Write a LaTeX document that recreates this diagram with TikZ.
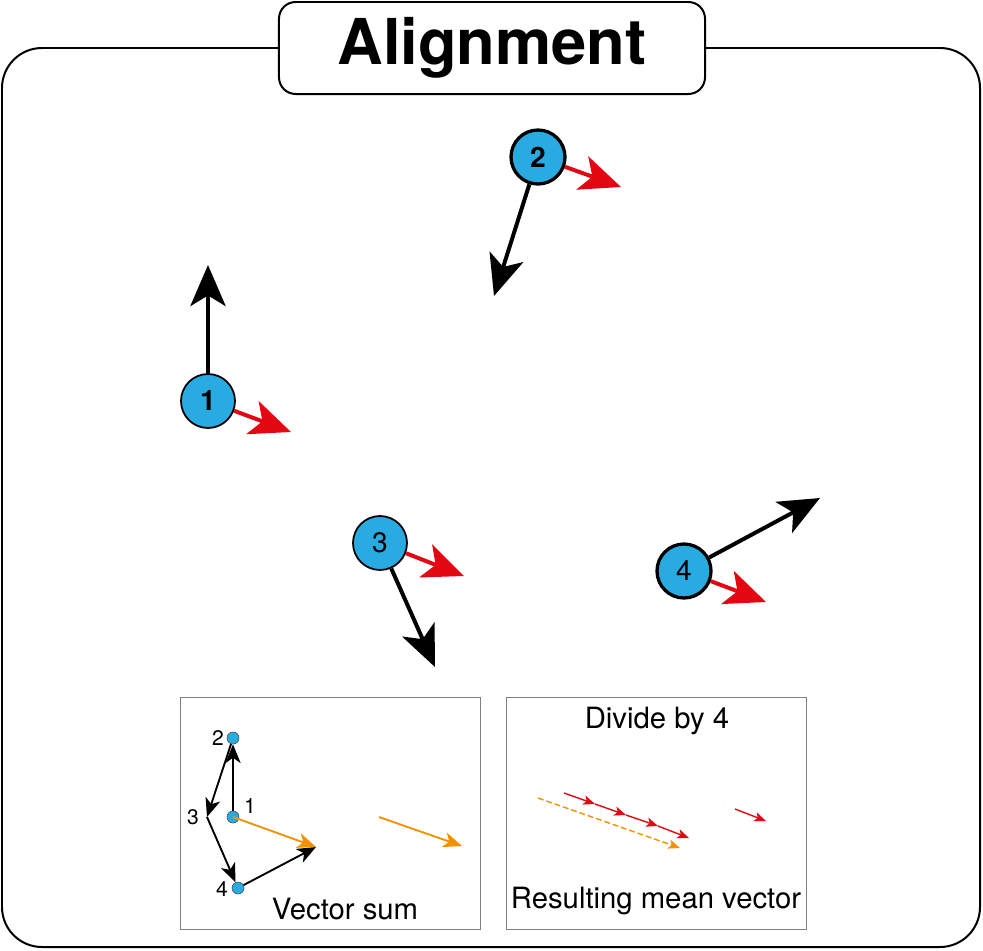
\documentclass[tikz,border=0pt]{standalone}
\usepackage{fontspec}
\setmainfont{TeX Gyre Heros}
\usepackage{xcolor}
\usetikzlibrary{arrows.meta}
\definecolor{agentblue}{RGB}{41,171,226}
\definecolor{headred}{RGB}{227,6,19}
\definecolor{sumorange}{RGB}{243,146,0}
\definecolor{panelgray}{RGB}{128,128,128}

\begin{document}
\begin{tikzpicture}[x=0.03cm, y=-0.03cm, % pixel units of the sketch
    agent/.style={circle, draw, fill=agentblue, minimum size=1.62cm, inner sep=0pt,
      font=\fontsize{24}{28}\selectfont},
    bigvec/.style={line width=3.4pt, -{Stealth[length=35pt, width=30pt, inset=9pt]}},
    dot/.style={circle, draw=black!70, line width=0.5pt, fill=agentblue, minimum size=0.36cm, inner sep=0pt},
    smallvec/.style={line width=1.6pt, -{Stealth[length=16pt, width=13pt, inset=4.5pt]}},
    tinyvec/.style={line width=1.2pt, -{Stealth[length=10pt, width=8pt, inset=2.5pt]}},
    panel/.style={draw=panelgray, line width=0.8pt, minimum width=9cm, minimum height=6.96cm, inner sep=0pt},
    caption/.style={font=\fontsize{25}{30}\selectfont},
    tag/.style={font=\fontsize{18}{21}\selectfont, inner sep=1pt}]

        % Frame
        \useasboundingbox (0,0) rectangle (983,950);
        \draw[line width=1.7pt, rounded corners=1.2cm] (2,48) rectangle (980,947);
        \node[draw, line width=1.7pt, fill=white, rounded corners=0.5cm,
              minimum width=12.78cm, minimum height=2.76cm,
              font=\bfseries\fontsize{54}{60}\selectfont] (title) at (492,48) {Alignment};

        % Agents
        \node[agent, line width=1.5pt, font=\bfseries\fontsize{24}{28}\selectfont] (a1) at (208,401) {1};
        \node[agent, line width=2.8pt, font=\bfseries\fontsize{24}{28}\selectfont] (a2) at (538,157) {2};
        \node[agent, line width=1.5pt] (a3) at (380,543) {3};
        \node[agent, line width=2.8pt] (a4) at (684,571) {4};

        % Vector ends
        \coordinate (h1) at (208,265);
        \coordinate (h2) at (494,296);
        \coordinate (h3) at (435,667);
        \coordinate (h4) at (820,498);
        \coordinate (r1) at (291,432);
        \coordinate (r2) at (621,187);
        \coordinate (r3) at (464,576);
        \coordinate (r4) at (766,602);

        % Headings and mean heading
        \draw[bigvec] (a1) -- (h1);
        \draw[bigvec] (a2) -- (h2);
        \draw[bigvec] (a3) -- (h3);
        \draw[bigvec] (a4) -- (h4);
        \draw[bigvec, headred] (a1) -- (r1);
        \draw[bigvec, headred] (a2) -- (r2);
        \draw[bigvec, headred] (a3) -- (r3);
        \draw[bigvec, headred] (a4) -- (r4);

        % Vector sum panel
        \node[panel] (sumpanel) at (330,813) {};
        \node[dot] (s1) at (233,817) {};
        \node[dot] (s2) at (233,738) {};
        \coordinate (s3) at (207,817);
        \node[dot] (s4) at (238,888) {};
        \coordinate (ssum) at (316,847);
        \coordinate (o1) at (379,817);
        \coordinate (o2) at (462,846);
        \draw[smallvec] (s1) -- (s2);
        \draw[smallvec] (s2) -- (s3);
        \draw[smallvec] (s3) -- (s4);
        \draw[smallvec] (s4) -- (ssum);
        \draw[smallvec, sumorange] (s1.center) -- (ssum);
        \draw[smallvec, sumorange] (o1) -- (o2);
        \node[tag] (t1) at (250,806) {1};
        \node[tag] (t2) at (218,738) {2};
        \node[tag] (t3) at (193,817) {3};
        \node[tag] (t4) at (222,889) {4};
        \node[caption] (sumtext) at (345,909) {Vector sum};

        % Mean vector panel
        \node[panel] (meanpanel) at (656,813) {};
        \coordinate (m0) at (564,793);
        \coordinate (m1) at (595,804);
        \coordinate (m2) at (626,815);
        \coordinate (m3) at (658,826);
        \coordinate (m4) at (689,838);
        \coordinate (d0) at (538,798);
        \coordinate (d1) at (680,848);
        \coordinate (u0) at (735,809);
        \coordinate (u1) at (766,821);
        \draw[tinyvec, headred] (m0) -- (m1);
        \draw[tinyvec, headred] (m1) -- (m2);
        \draw[tinyvec, headred] (m2) -- (m3);
        \draw[tinyvec, headred] (m3) -- (m4);
        \draw[tinyvec, sumorange, dash pattern=on 5pt off 2.5pt] (d0) -- (d1);
        \draw[tinyvec, headred] (u0) -- (u1);
        \node[caption] (divtext) at (657,721) {Divide by 4};
        \node[caption] (meantext) at (656,901) {Resulting mean vector};
    \end{tikzpicture}
\end{document}
